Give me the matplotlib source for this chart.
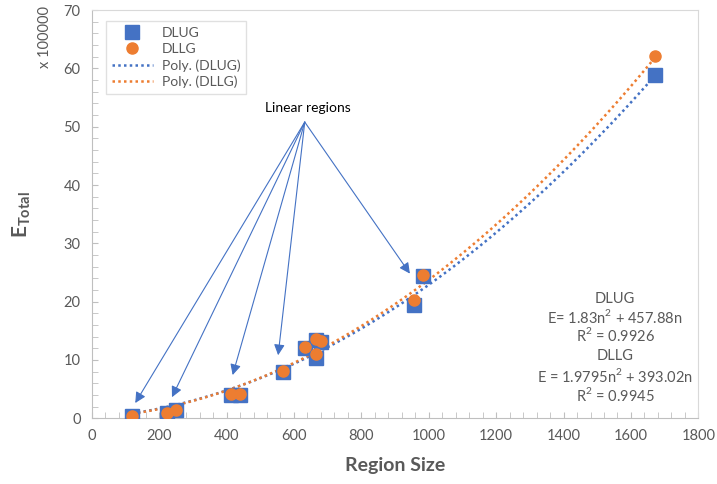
import numpy as np
import matplotlib
matplotlib.use('Agg')
from matplotlib import pyplot as plt
from matplotlib.ticker import MultipleLocator

plt.rcParams['font.family'] = ['Lato', 'DejaVu Sans']
plt.rcParams['mathtext.fontset'] = 'custom'
plt.rcParams['mathtext.rm'] = 'Lato'
plt.rcParams['mathtext.bf'] = 'Lato:bold'

# data (E in units of 100000)
dlug_x = [120, 223, 250, 412, 441, 568, 632, 665, 680, 665, 956, 982, 1670]
dlug_y = [0.3, 0.9, 1.4, 3.9, 4.0, 8.0, 12.1, 13.4, 13.0, 10.3, 19.4, 24.4, 58.8]
dllg_x = [120, 223, 250, 412, 441, 568, 632, 665, 680, 665, 956, 982, 1670]
dllg_y = [0.3, 0.9, 1.4, 4.1, 4.2, 8.1, 12.2, 13.6, 13.2, 11.0, 20.2, 24.5, 62.2]

# trendline coefficients shown on the chart: E = a*n^2 + b*n
dlug_coef = [1.83, 457.88]
dllg_coef = [1.9795, 393.02]

# arrow targets for "Linear regions"
arrow_src = (632, 50.8)
arrow_x = [129, 238, 418, 553, 944]
arrow_y = [2.6, 3.6, 7.4, 10.8, 24.8]

blue = '#4472C4'
orange = '#ED7D31'
grey = '#595959'

fig = plt.figure(figsize=(7.17, 4.84), dpi=100)
ax = fig.add_axes([0.128, 0.136, 0.846, 0.843])

ax.plot(dlug_x, dlug_y, 's', color=blue, ms=10, label='DLUG', zorder=3)
ax.plot(dllg_x, dllg_y, 'o', color=orange, ms=8, label='DLLG', zorder=4)

n = np.linspace(min(dlug_x), max(dlug_x), 200)
ax.plot(n, (dlug_coef[0] * n**2 + dlug_coef[1] * n) / 1e5, color=blue,
        lw=1.8, ls=(0, (1, 1.3)), label='Poly. (DLUG)', zorder=2)
ax.plot(n, (dllg_coef[0] * n**2 + dllg_coef[1] * n) / 1e5, color=orange,
        lw=1.8, ls=(0, (1, 1.3)), label='Poly. (DLLG)', zorder=2)

for tx, ty in zip(arrow_x, arrow_y):
    ax.annotate('', xy=(tx, ty), xytext=arrow_src,
                arrowprops=dict(arrowstyle='-|>', color=blue, lw=0.8,
                                mutation_scale=16, shrinkA=0, shrinkB=0))
ax.text(641, 53.3, 'Linear regions', ha='center', va='center', fontsize=10, color='black')

eq_x = 1553
ax.text(eq_x, 20.5, 'DLUG', ha='center', va='center', fontsize=10.5, color=grey)
ax.text(eq_x, 17.3, 'E= 1.83n$^2$ + 457.88n', ha='center', va='center', fontsize=10.5, color=grey)
ax.text(eq_x, 14.2, 'R$^2$ = 0.9926', ha='center', va='center', fontsize=10.5, color=grey)
ax.text(eq_x, 10.6, 'DLLG', ha='center', va='center', fontsize=10.5, color=grey)
ax.text(eq_x, 7.2, 'E = 1.9795n$^2$ + 393.02n', ha='center', va='center', fontsize=10.5, color=grey)
ax.text(eq_x, 3.9, 'R$^2$ = 0.9945', ha='center', va='center', fontsize=10.5, color=grey)

ax.set_xlim(0, 1800)
ax.set_ylim(0, 70)
ax.xaxis.set_major_locator(MultipleLocator(200))
ax.xaxis.set_minor_locator(MultipleLocator(40))
ax.yaxis.set_major_locator(MultipleLocator(10))
ax.yaxis.set_minor_locator(MultipleLocator(2))
ax.tick_params(which='both', direction='in', length=4, color='#bfbfbf',
               labelcolor=grey, labelsize=10.5)
ax.tick_params(axis='x', pad=8)
ax.tick_params(axis='y', pad=8)
for side in ['top', 'right']:
    ax.spines[side].set_color('#d9d9d9')
for side in ['left', 'bottom']:
    ax.spines[side].set_color('#bfbfbf')

ax.set_xlabel('Region Size', fontsize=14, fontweight='bold', color=grey, labelpad=10)
ax.set_ylabel(r'$\mathbf{E_{Total}}$', fontsize=15, color=grey, labelpad=22)
fig.text(45 / 717, 1 - 37 / 484, 'x 100000', rotation=90, ha='center', va='center',
         fontsize=10.5, color=grey)

leg = ax.legend(loc='upper left', bbox_to_anchor=(0.012, 0.99), fontsize=10,
                fancybox=False, edgecolor='#d9d9d9', handlelength=3,
                handletextpad=0.6, labelcolor=grey, borderpad=0.4, labelspacing=0.3)
leg.get_frame().set_linewidth(1)

fig.savefig('out.png', dpi=100)
